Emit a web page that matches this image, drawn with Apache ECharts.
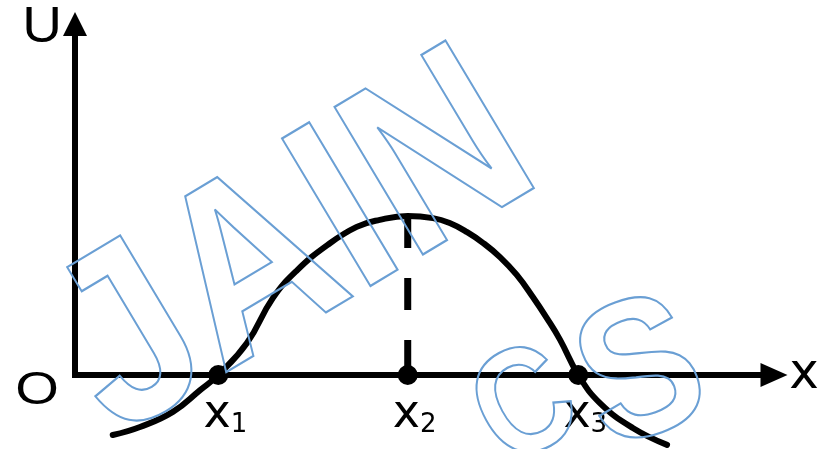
<!DOCTYPE html>
<html>
<head>
<meta charset="utf-8">
<script src="https://cdn.jsdelivr.net/npm/echarts@6/dist/echarts.min.js"></script>
<style>
html,body{margin:0;padding:0;background:#fff;}
#chart{width:821px;height:449px;}
</style>
</head>
<body>
<div id="chart"></div>
<script>
// Potential energy curve U(x) (arbitrary units)
var curveX = [0.54, 0.93, 1.40, 1.79, 2.05, 2.46, 2.83, 3.18, 3.61, 4.03, 4.36, 4.76, 5.12, 5.36, 5.61, 5.84, 6.08, 6.32, 6.55, 6.75, 6.94, 7.20, 7.51, 7.98, 8.47];
var curveU = [-1.71, -1.48, -1.05, -0.43, 0.00, 0.91, 2.19, 2.99, 3.70, 4.22, 4.42, 4.53, 4.47, 4.33, 4.07, 3.76, 3.36, 2.85, 2.22, 1.62, 1.00, 0.00, -0.80, -1.51, -1.99];
var pointX = [2.05, 4.76, 7.20];
var pointSub = ['1', '2', '3'];
var peakX = 4.76;
var peakU = 4.53;
var axisMax = 10;

var curveData = curveX.map(function (x, i) { return [x, curveU[i]]; });
var pointData = pointX.map(function (x) { return [x, 0]; });

var chart = echarts.init(document.getElementById('chart'), null, {renderer: 'canvas'});
var FONT = '"Liberation Sans", Arial, sans-serif';
var DV = '"DejaVu Sans", sans-serif';
var wm = '#6a9fd4';

chart.setOption({
  animation: false,
  backgroundColor: '#fff',
  grid: {left: 75, right: 47, top: 24, bottom: 74},
  xAxis: {
    type: 'value', min: 0, max: axisMax,
    axisLine: {show: true, symbol: ['none', 'triangle'], symbolSize: [24, 27],
      lineStyle: {color: '#000', width: 6, cap: 'square'}},
    axisTick: {show: false}, axisLabel: {show: false}, splitLine: {show: false}
  },
  yAxis: {
    type: 'value', min: 0, max: axisMax,
    axisLine: {show: true, symbol: ['none', 'triangle'], symbolSize: [24, 24],
      lineStyle: {color: '#000', width: 6, cap: 'square'}},
    axisTick: {show: false}, axisLabel: {show: false}, splitLine: {show: false}
  },
  series: [
    {
      type: 'line', data: [[peakX, peakU], [peakX, 0]], symbol: 'none', clip: false,
      lineStyle: {color: '#000', width: 7, type: [32, 30]}, z: 2
    },
    {
      type: 'line', data: curveData, smooth: 0.45, symbol: 'none', clip: false,
      lineStyle: {color: '#000', width: 6, join: 'round', cap: 'round'}, z: 3
    },
    {
      type: 'scatter', data: pointData, symbol: 'circle', symbolSize: 20, clip: false,
      itemStyle: {color: '#000', opacity: 1}, z: 4,
      label: {
        show: true, position: 'bottom', distance: 7, offset: [7, 0],
        formatter: function (p) { return '{m|x}{s|' + pointSub[p.dataIndex] + '}'; },
        rich: {
          m: {fontSize: 46, fontFamily: DV, color: '#000', lineHeight: 46},
          s: {fontSize: 26, fontFamily: DV, color: '#000', lineHeight: 10, verticalAlign: 'bottom'}
        }
      }
    }
  ],
  graphic: [
    {type: 'text', x: 42, y: 28, scaleX: 1.1, style: {text: 'U', font: '50px ' + FONT, fill: '#000', align: 'center', verticalAlign: 'middle'}},
    {type: 'text', x: 37, y: 391, scaleX: 1.22, style: {text: 'O', font: '46px ' + FONT, fill: '#000', align: 'center', verticalAlign: 'middle'}},
    {type: 'text', x: 804, y: 375, style: {text: 'x', font: '50px ' + DV, fill: '#000', align: 'center', verticalAlign: 'middle'}},
    {type: 'text', x: 296, y: 250, rotation: 0.54, scaleX: 0.88, z: 100, silent: true,
      style: {text: 'JAIN', font: 'bold 250px ' + FONT, fill: 'rgba(0,0,0,0)', stroke: wm, lineWidth: 2.2, lineJoin: 'round', align: 'center', verticalAlign: 'middle'}},
    {type: 'text', x: 527, y: 410, rotation: 0.5, scaleX: 0.85, z: 100, silent: true,
      style: {text: 'C', font: 'bold 150px ' + FONT, fill: 'rgba(0,0,0,0)', stroke: wm, lineWidth: 2.2, lineJoin: 'round', align: 'center', verticalAlign: 'middle'}},
    {type: 'text', x: 643, y: 380, rotation: 0.35, scaleX: 0.9, z: 100, silent: true,
      style: {text: 'S', font: 'bold 195px ' + FONT, fill: 'rgba(0,0,0,0)', stroke: wm, lineWidth: 2.2, lineJoin: 'round', align: 'center', verticalAlign: 'middle'}}
  ]
});
</script>
</body>
</html>
